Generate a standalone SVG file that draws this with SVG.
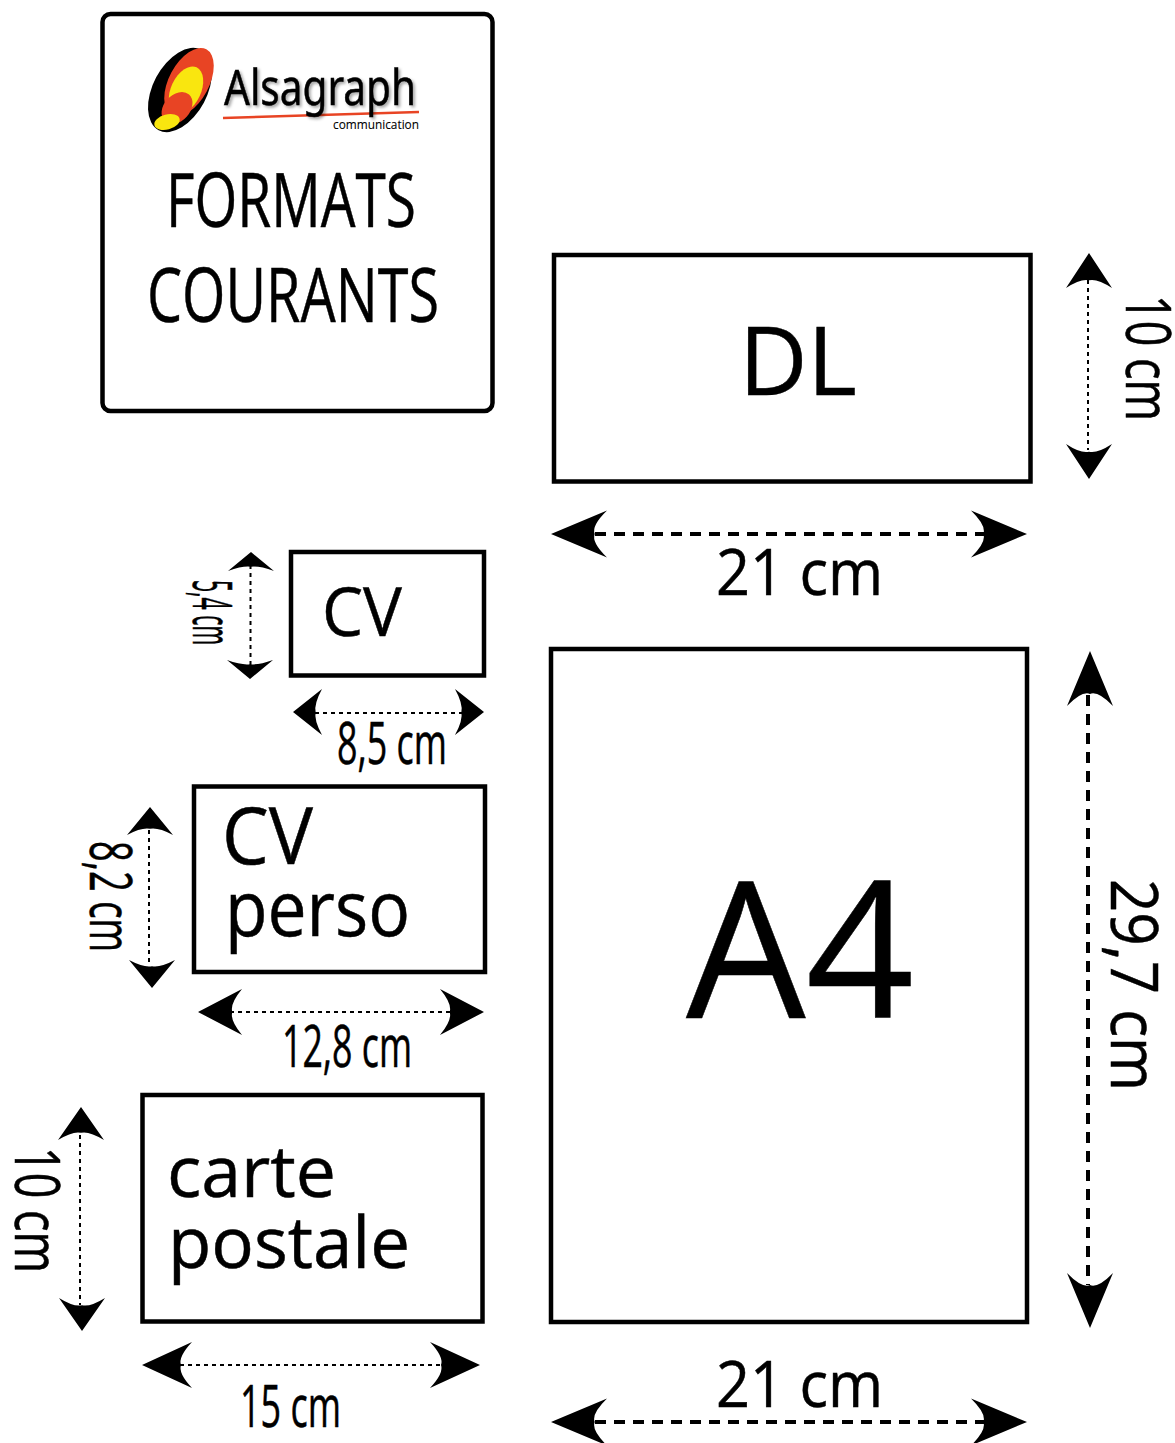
<svg xmlns="http://www.w3.org/2000/svg" width="1175" height="1443" viewBox="0 0 1175 1443">
<style>
.box{fill:#fff;stroke:#000;stroke-width:4.500}
text{font-family:"Open Sans","Noto Sans","Liberation Sans",sans-serif;fill:#000;stroke:#000;stroke-width:.5}
.thick{stroke:#000;stroke-width:4;stroke-dasharray:11 8;fill:none}
.thin{stroke:#000;stroke-width:2;stroke-dasharray:4 4;fill:none}
</style>
<defs>
<path id="head" d="M0,0 L-1,-1 Q-.72,-.35 -.78,0 Q-.72,.35 -1,1Z" fill="#000"/>
<filter id="sh" x="-5%" y="-20%" width="115%" height="150%"><feDropShadow dx="2" dy="2" stdDeviation="1.5" flood-color="#000" flood-opacity=".35"/></filter>
</defs>
<rect width="1175" height="1443" fill="#fff"/>

<g id="title">
<rect class="box" x="102.500" y="14" width="390" height="397" rx="8"/>
<g id="logo">
<ellipse cx="180" cy="90" rx="27" ry="45.500" transform="rotate(28 180 90)" fill="#000"/>
<ellipse cx="189" cy="82" rx="20" ry="37" transform="rotate(28 189 82)" fill="#e84424"/>
<ellipse cx="186" cy="90" rx="15" ry="25" transform="rotate(25 186 90)" fill="#f9e60f"/>
<ellipse cx="177" cy="108" rx="13" ry="18" transform="rotate(42 177 108)" fill="#e84424"/>
<ellipse cx="167" cy="122" rx="13" ry="7.500" transform="rotate(-15 167 122)" fill="#f9e60f"/>
<path d="M223,118 L419,112" stroke="#e84424" stroke-width="2.500" fill="none"/>
<text x="224" y="105" font-size="50" textLength="192" lengthAdjust="spacingAndGlyphs" style="font-family:'Noto Sans',sans-serif;font-weight:400" filter="url(#sh)">Alsagraph</text>
<text x="333" y="129" font-size="13" textLength="86" lengthAdjust="spacingAndGlyphs" style="stroke-width:.1">communication</text>
</g>
<text x="166" y="227" font-size="75" textLength="250" lengthAdjust="spacingAndGlyphs">FORMATS</text>
<text x="147" y="322" font-size="75" textLength="292" lengthAdjust="spacingAndGlyphs">COURANTS</text>
</g>

<g id="dl">
<rect class="box" x="554" y="255" width="476.500" height="226.500"/>
<text x="739" y="395" font-size="95" textLength="118" lengthAdjust="spacingAndGlyphs">DL</text>
</g>
<g id="a4">
<rect class="box" x="551" y="649" width="476" height="673"/>
<text x="686" y="1018" font-size="190" textLength="228" lengthAdjust="spacingAndGlyphs">A4</text>
</g>
<g id="cv">
<rect class="box" x="291" y="552" width="193" height="123.500"/>
<text x="322" y="636" font-size="67" textLength="80" lengthAdjust="spacingAndGlyphs">CV</text>
</g>
<g id="cv-perso">
<rect class="box" x="194" y="786.500" width="291" height="185.500"/>
<text x="222" y="864" font-size="78" textLength="91" lengthAdjust="spacingAndGlyphs">CV</text>
<text x="225" y="936" font-size="76" textLength="185" lengthAdjust="spacingAndGlyphs">perso</text>
</g>
<g id="carte-postale">
<rect class="box" x="142.500" y="1095" width="340" height="226.500"/>
<text x="167" y="1197" font-size="72" textLength="169" lengthAdjust="spacingAndGlyphs">carte</text>
<text x="168" y="1268" font-size="72" textLength="242" lengthAdjust="spacingAndGlyphs">postale</text>
</g>

<g id="connectors">
<path class="thick" d="M595,534H985"/>
<use href="#head" transform="translate(551,534) rotate(180) scale(56,23.500)"/>
<use href="#head" transform="translate(1027,534) scale(56,23.500)"/>
<path class="thin" d="M1088,280V450"/>
<use href="#head" transform="translate(1089,253) rotate(-90) scale(35,23)"/>
<use href="#head" transform="translate(1089,479) rotate(90) scale(35,23)"/>
<path class="thick" d="M1088,695V1285"/>
<use href="#head" transform="translate(1090,651) rotate(-90) scale(55,23)"/>
<use href="#head" transform="translate(1090,1328) rotate(90) scale(55,23)"/>
<path class="thick" d="M595,1422H985"/>
<use href="#head" transform="translate(551,1422) rotate(180) scale(56,23.500)"/>
<use href="#head" transform="translate(1027,1422) scale(56,23.500)"/>
<path class="thin" d="M250.500,565V665"/>
<use href="#head" transform="translate(251,552) rotate(-90) scale(19,23)"/>
<use href="#head" transform="translate(250,679) rotate(90) scale(19,23)"/>
<path class="thin" d="M315,713H465"/>
<use href="#head" transform="translate(293,712) rotate(180) scale(29,23)"/>
<use href="#head" transform="translate(484,712) scale(29,23)"/>
<path class="thin" d="M149,830V965"/>
<use href="#head" transform="translate(150,807) rotate(-90) scale(28,23)"/>
<use href="#head" transform="translate(152,988) rotate(90) scale(28,23)"/>
<path class="thin" d="M230,1012H450"/>
<use href="#head" transform="translate(198,1012) rotate(180) scale(44,23)"/>
<use href="#head" transform="translate(484,1012) scale(44,23)"/>
<path class="thin" d="M80,1135V1305"/>
<use href="#head" transform="translate(81,1107) rotate(-90) scale(33,23)"/>
<use href="#head" transform="translate(82,1331) rotate(90) scale(33,23)"/>
<path class="thin" d="M180,1365H440"/>
<use href="#head" transform="translate(142,1365) rotate(180) scale(50,23)"/>
<use href="#head" transform="translate(480,1365) scale(50,23)"/>
</g>

<g id="labels">
<text x="716" y="595" font-size="64" textLength="167" lengthAdjust="spacingAndGlyphs">21 cm</text>
<text x="716" y="1407" font-size="64" textLength="167" lengthAdjust="spacingAndGlyphs">21 cm</text>
<text transform="translate(1126,295) rotate(90)" font-size="62" textLength="126" lengthAdjust="spacingAndGlyphs">10 cm</text>
<text transform="translate(1111,879) rotate(90)" font-size="66" textLength="212" lengthAdjust="spacingAndGlyphs">29,7 cm</text>
<text transform="translate(193,580) rotate(90)" font-size="54" textLength="65" lengthAdjust="spacingAndGlyphs">5,4 cm</text>
<text transform="translate(90,841) rotate(90)" font-size="58" textLength="111" lengthAdjust="spacingAndGlyphs">8,2 cm</text>
<text transform="translate(15,1147) rotate(90)" font-size="62" textLength="126" lengthAdjust="spacingAndGlyphs">10 cm</text>
<text x="337" y="764" font-size="58" textLength="110" lengthAdjust="spacingAndGlyphs">8,5 cm</text>
<text x="282" y="1067" font-size="58" textLength="130" lengthAdjust="spacingAndGlyphs">12,8 cm</text>
<text x="240" y="1427" font-size="58" textLength="101" lengthAdjust="spacingAndGlyphs">15 cm</text>
</g>
</svg>
